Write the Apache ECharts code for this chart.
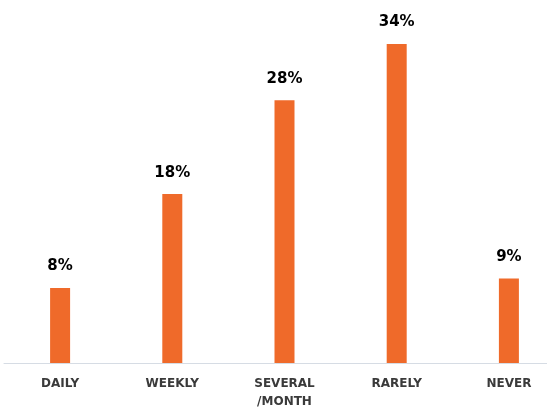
<!DOCTYPE html>
<html><head><meta charset="utf-8">
<script src="https://cdn.jsdelivr.net/npm/echarts@6/dist/echarts.min.js"></script>
<style>html,body{margin:0;padding:0;background:#fff}#c{width:547px;height:411px}</style>
</head><body><div id="c"></div>
<script>
var categories = ['DAILY', 'WEEKLY', 'SEVERAL\n/MONTH', 'RARELY', 'NEVER'];
var values = [8, 18, 28, 34, 9];
var chart = echarts.init(document.getElementById('c'), null, {renderer: 'canvas'});
chart.setOption({
  animation: false,
  grid: {left: 4, right: -18, top: 44, bottom: 48, containLabel: false, outerBoundsMode: 'none'},
  xAxis: {
    type: 'category', data: categories,
    axisLine: {show: true, lineStyle: {color: '#d6dce4', width: 1}},
    axisTick: {show: false},
    axisLabel: {margin: 12, color: '#3a3a3a', fontSize: 12, fontWeight: 'bold', fontFamily: 'DejaVu Sans', lineHeight: 18}
  },
  yAxis: {type: 'value', min: 0, max: 34, show: false, splitLine: {show: false}},
  series: [{
    type: 'bar', data: values, barWidth: 20,
    itemStyle: {color: '#ef6a2a'},
    label: {show: true, position: 'top', distance: 14, formatter: '{c}%', color: '#000', fontSize: 15, fontWeight: 'bold', fontFamily: 'DejaVu Sans'}
  }]
});
</script></body></html>
